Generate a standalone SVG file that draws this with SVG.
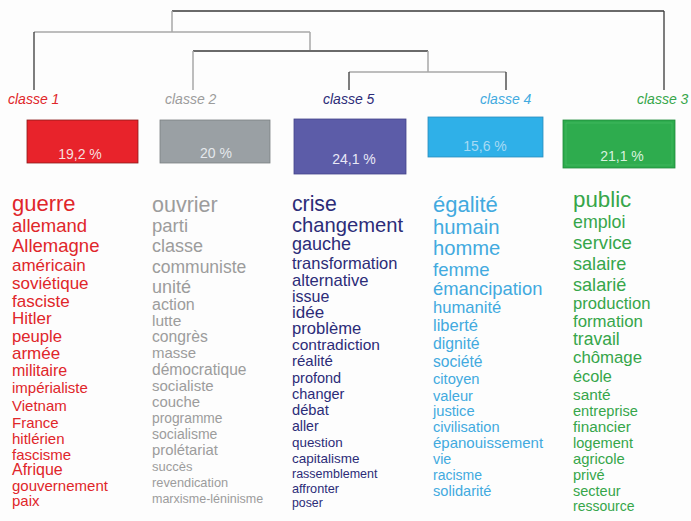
<svg xmlns="http://www.w3.org/2000/svg" width="691" height="521" viewBox="0 0 691 521">
<style>
text{font-family:"Liberation Sans",Arial,sans-serif}
.lbl{font-style:italic;font-size:14px}
.pct{font-size:14px}
.c1{fill:#e0262a}.c2{fill:#9c9c9c}.c5{fill:#2c2c78}.c4{fill:#42aadf}.c3{fill:#36a64a}
.dk{stroke:#3a3a3a;stroke-width:1.3;fill:none}
.lt{stroke:#a8a8a8;stroke-width:1.5;fill:none}
.md{stroke:#6a6a6a;stroke-width:1.8;fill:none}
</style>
<rect width="691" height="521" fill="#fdfdfd"/>
<g id="connectors">
<path class="dk" d="M172,11H664M664,11V90"/>
<path class="lt" d="M172,11V32M34,32H310M310,32V51"/>
<path class="dk" d="M34,32V90"/>
<path class="md" d="M193,51H428"/>
<path class="lt" d="M193,51V90M428,51V72M349,72H506"/>
<path class="dk" d="M349,72V90M506,72V90"/>
</g>
<g id="classe1">
<text class="lbl c1" x="8" y="104">classe 1</text>
<rect x="27" y="120" width="111" height="43" fill="#e8232b" stroke="#8a1a1a" stroke-width="0.8"/>
<text class="pct" x="80" y="159" text-anchor="middle" fill="#f6dede">19,2 %</text>
<g class="c1">
<text x="12" y="211" font-size="22">guerre</text>
<text x="12" y="232" font-size="18.5">allemand</text>
<text x="12" y="252" font-size="18.5">Allemagne</text>
<text x="12" y="271" font-size="17">américain</text>
<text x="12" y="289" font-size="17">soviétique</text>
<text x="12" y="307" font-size="17">fasciste</text>
<text x="12" y="324" font-size="17">Hitler</text>
<text x="12" y="342" font-size="16.7">peuple</text>
<text x="12" y="359" font-size="17">armée</text>
<text x="12" y="376" font-size="16">militaire</text>
<text x="12" y="393" font-size="15">impérialiste</text>
<text x="12" y="411" font-size="15">Vietnam</text>
<text x="12" y="428" font-size="15">France</text>
<text x="12" y="444" font-size="15">hitlérien</text>
<text x="12" y="460" font-size="15">fascisme</text>
<text x="12" y="475" font-size="16">Afrique</text>
<text x="12" y="491" font-size="15">gouvernement</text>
<text x="12" y="506" font-size="15">paix</text>
</g>
</g>
<g id="classe2">
<text class="lbl c2" x="165" y="104">classe 2</text>
<rect x="160" y="120" width="110" height="43" fill="#9aa0a4" stroke="#7a7f82" stroke-width="0.8"/>
<text class="pct" x="216" y="158" text-anchor="middle" fill="#e4e8ec">20 %</text>
<g class="c2">
<text x="152" y="212" font-size="21.5">ouvrier</text>
<text x="152" y="232" font-size="18.5">parti</text>
<text x="152" y="252" font-size="18">classe</text>
<text x="152" y="273" font-size="17.5">communiste</text>
<text x="152" y="293" font-size="18">unité</text>
<text x="152" y="310" font-size="16">action</text>
<text x="152" y="326" font-size="15.5">lutte</text>
<text x="152" y="342" font-size="15.7">congrès</text>
<text x="152" y="358" font-size="15">masse</text>
<text x="152" y="375" font-size="15.6">démocratique</text>
<text x="152" y="391" font-size="15">socialiste</text>
<text x="152" y="407" font-size="14.9">couche</text>
<text x="152" y="423" font-size="13.8">programme</text>
<text x="152" y="439" font-size="14">socialisme</text>
<text x="152" y="455" font-size="14.8">prolétariat</text>
<text x="152" y="471" font-size="13">succès</text>
<text x="152" y="487" font-size="12.8">revendication</text>
<text x="152" y="503" font-size="12.5">marxisme-léninisme</text>
</g>
</g>
<g id="classe5">
<text class="lbl c5" x="323" y="104">classe 5</text>
<rect x="294" y="119" width="112" height="55" fill="#5c5ca8" stroke="#44448a" stroke-width="0.8"/>
<text class="pct" x="354" y="164" text-anchor="middle" fill="#e8e8f6">24,1 %</text>
<g class="c5">
<text x="292" y="211" font-size="21.2">crise</text>
<text x="292" y="232" font-size="20.2">changement</text>
<text x="292" y="250" font-size="18">gauche</text>
<text x="292" y="269" font-size="16.5">transformation</text>
<text x="292" y="286" font-size="16.6">alternative</text>
<text x="292" y="302" font-size="16">issue</text>
<text x="292" y="318" font-size="17">idée</text>
<text x="292" y="334" font-size="16.6">problème</text>
<text x="292" y="350" font-size="15.5">contradiction</text>
<text x="292" y="366" font-size="15">réalité</text>
<text x="292" y="383" font-size="14.5">profond</text>
<text x="292" y="399" font-size="14.5">changer</text>
<text x="292" y="415" font-size="14.7">débat</text>
<text x="292" y="431" font-size="14.1">aller</text>
<text x="292" y="447" font-size="13.4">question</text>
<text x="292" y="463" font-size="13.5">capitalisme</text>
<text x="292" y="478" font-size="12.5">rassemblement</text>
<text x="292" y="493" font-size="12.7">affronter</text>
<text x="292" y="507" font-size="12.3">poser</text>
</g>
</g>
<g id="classe4">
<text class="lbl c4" x="480" y="104">classe 4</text>
<rect x="428" y="117" width="115" height="40" fill="#2fb0e8" stroke="#2a8cbc" stroke-width="0.8"/>
<text class="pct" x="485" y="151" text-anchor="middle" fill="#a6daf4">15,6 %</text>
<g class="c4">
<text x="433" y="212" font-size="22">égalité</text>
<text x="433" y="234" font-size="20.3">humain</text>
<text x="433" y="255" font-size="20.2">homme</text>
<text x="433" y="276" font-size="18.5">femme</text>
<text x="433" y="295" font-size="18.4">émancipation</text>
<text x="433" y="313" font-size="16.6">humanité</text>
<text x="433" y="331" font-size="16.5">liberté</text>
<text x="433" y="349" font-size="15.8">dignité</text>
<text x="433" y="367" font-size="15.6">société</text>
<text x="433" y="384" font-size="14.7">citoyen</text>
<text x="433" y="401" font-size="14.7">valeur</text>
<text x="433" y="416" font-size="14.7">justice</text>
<text x="433" y="432" font-size="14.6">civilisation</text>
<text x="433" y="448" font-size="15">épanouissement</text>
<text x="433" y="464" font-size="14.3">vie</text>
<text x="433" y="480" font-size="14">racisme</text>
<text x="433" y="496" font-size="14.6">solidarité</text>
</g>
</g>
<g id="classe3">
<text class="lbl c3" x="637" y="104">classe 3</text>
<rect x="563" y="120" width="112" height="48" fill="#2eac4e" stroke="#1f8a3a" stroke-width="0.8"/>
<rect x="566" y="123" width="106" height="42" fill="none" stroke="#4cc06a" stroke-width="0.6"/>
<text class="pct" x="622" y="161" text-anchor="middle" fill="#d8f2de">21,1 %</text>
<g class="c3">
<text x="573" y="207" font-size="22.3">public</text>
<text x="573" y="228" font-size="17.8">emploi</text>
<text x="573" y="249" font-size="18.6">service</text>
<text x="573" y="270" font-size="18.1">salaire</text>
<text x="573" y="291" font-size="18.1">salarié</text>
<text x="573" y="309" font-size="16.6">production</text>
<text x="573" y="327" font-size="16.8">formation</text>
<text x="573" y="345" font-size="17.5">travail</text>
<text x="573" y="363" font-size="16.8">chômage</text>
<text x="573" y="382" font-size="16.3">école</text>
<text x="573" y="400" font-size="15.4">santé</text>
<text x="573" y="416" font-size="14.6">entreprise</text>
<text x="573" y="432" font-size="15.3">financier</text>
<text x="573" y="448" font-size="14.6">logement</text>
<text x="573" y="464" font-size="14.8">agricole</text>
<text x="573" y="480" font-size="14.6">privé</text>
<text x="573" y="496" font-size="14.5">secteur</text>
<text x="573" y="511" font-size="14">ressource</text>
</g>
</g>
</svg>
